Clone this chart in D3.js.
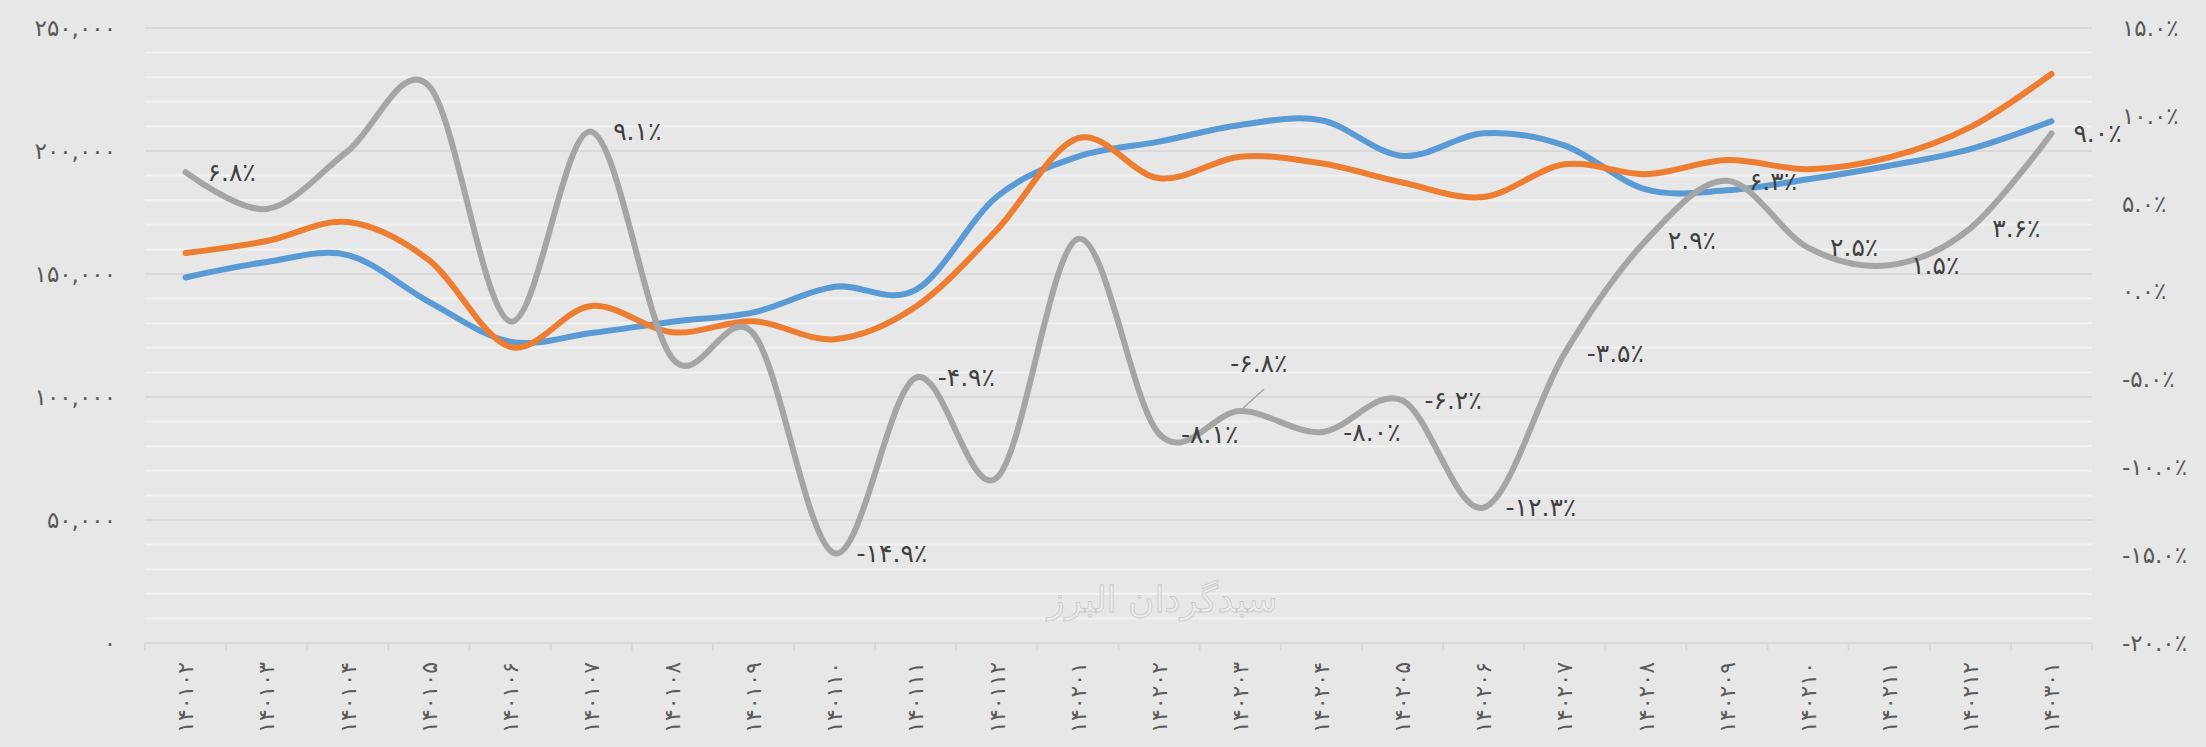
<!DOCTYPE html>
<html>
<head>
<meta charset="utf-8">
<script src="https://cdn.jsdelivr.net/npm/d3@7"></script>
<style>
  html, body { margin: 0; padding: 0; background: #e7e7e7; }
  svg { display: block; }
  text { font-family: "DejaVu Sans", sans-serif; }
</style>
</head>
<body>
<div id="chart"></div>
<script>
// months (solar hijri, yyyymm)
var months = [
  "۱۴۰۱۰۲", "۱۴۰۱۰۳", "۱۴۰۱۰۴", "۱۴۰۱۰۵", "۱۴۰۱۰۶", "۱۴۰۱۰۷", "۱۴۰۱۰۸", "۱۴۰۱۰۹"
, "۱۴۰۱۱۰", "۱۴۰۱۱۱", "۱۴۰۱۱۲", "۱۴۰۲۰۱", "۱۴۰۲۰۲", "۱۴۰۲۰۳", "۱۴۰۲۰۴", "۱۴۰۲۰۵"
, "۱۴۰۲۰۶", "۱۴۰۲۰۷", "۱۴۰۲۰۸", "۱۴۰۲۰۹", "۱۴۰۲۱۰", "۱۴۰۲۱۱", "۱۴۰۲۱۲", "۱۴۰۳۰۱"
]

// left axis series
var seriesBlue = [
  148600, 154900, 157700, 138700, 122500, 126000, 130600, 134400
, 144800, 143500, 181400, 197700, 203800, 210600, 212500, 198000
, 207200, 202200, 184400, 184000, 188500, 194000, 200800, 212100
]
var seriesOrange = [
  158500, 163400, 171100, 155600, 120400, 137000, 126300, 130800
, 123500, 136700, 167900, 205200, 188900, 197700, 195000, 187200
, 181300, 194600, 190600, 196300, 192600, 197400, 209700, 231300
]

// right axis series (percent)
var seriesChange = [
  6.8, 4.7, 8.0, 11.7, -1.7, 9.1, -3.8, -2.4
, -14.9, -4.9, -10.6, 3.0, -8.1, -6.8, -8.0, -6.2
, -12.3, -3.5, 2.9, 6.3, 2.5, 1.5, 3.6, 9.0
]
// points of seriesChange that carry a data label
var labelledPoints = [0, 5, 8, 9, 12, 13, 14, 15, 16, 17, 18, 19, 20, 21, 22, 23]

var leftTicks = [0, 50000, 100000, 150000, 200000, 250000]
var rightTicks = [-20, -15, -10, -5, 0, 5, 10, 15]
var watermarkText = "سبدگردان البرز"

!function (d3) {

  "use strict"

  var faDigits = "۰۱۲۳۴۵۶۷۸۹"

  function fa (s) {
    return String(s).replace(/[0-9]/g, function (c) { return faDigits[+c] })
  }

  function pct (v) {
    return fa((v < 0 ? "-" : "") + Math.abs(v).toFixed(1)) + "٪"
  }

  var PriceChart = function (element, options) {
    this.init(element, options)
  }

  PriceChart.prototype = {

    constructor: PriceChart

  , init: function (element, options) {
      var o = this.options = Object.assign({}, PriceChart.defaults, options)

      this.svg = d3.select(element)
        .append("svg")
        .attr("width", o.width)
        .attr("height", o.height)

      this.svg.append("rect")
        .attr("width", o.width)
        .attr("height", o.height)
        .attr("fill", o.color_bg)

      this.x = d3.scaleBand()
        .domain(d3.range(months.length))
        .range([o.left, o.right])

      this.yLeft = d3.scaleLinear()
        .domain([leftTicks[0], leftTicks[leftTicks.length - 1]])
        .range([o.bottom, o.top])

      this.yRight = d3.scaleLinear()
        .domain([rightTicks[0], rightTicks[rightTicks.length - 1]])
        .range([o.bottom, o.top])

      this.drawGrid()
      this.drawWatermark()
      this.drawAxes()
      this.drawLines()
      this.drawLabels()
    }

  , cx: function (i) {
      return this.x(i) + this.x.bandwidth() / 2
    }

  , drawGrid: function () {
      var that = this
        , o = this.options
        , step = 10000
        , values = d3.range(leftTicks[0], leftTicks[leftTicks.length - 1] + 1, step)

      this.svg.append("g")
        .selectAll("line")
          .data(values)
        .enter().append("line")
          .attr("x1", o.left)
          .attr("x2", o.right)
          .attr("y1", function (d) { return that.yLeft(d) })
          .attr("y2", function (d) { return that.yLeft(d) })
          .attr("stroke", function (d) {
            return leftTicks.indexOf(d) >= 0 ? o.color_grid_major : o.color_grid_minor
          })
          .attr("stroke-width", 2)
    }

  , drawWatermark: function () {
      var o = this.options
      this.svg.append("text")
        .text(watermarkText)
        .attr("x", (o.left + o.right) / 2 + 44)
        .attr("y", o.bottom - 31)
        .attr("text-anchor", "middle")
        .attr("direction", "rtl")
        .attr("font-size", "36px")
        .attr("fill", "#ececec")
        .attr("stroke", "#c9c9c9")
        .attr("stroke-width", 0.8)
    }

  , drawAxes: function () {
      var that = this
        , o = this.options

      // left axis
      var left = this.svg.append("g")
        .attr("transform", "translate(" + o.left + ",0)")
        .call(d3.axisLeft(this.yLeft)
          .tickValues(leftTicks)
          .tickSize(0)
          .tickPadding(29)
          .tickFormat(function (d) { return fa(d3.format(",")(d)) }))
      left.select(".domain").remove()

      // right axis
      var right = this.svg.append("g")
        .attr("transform", "translate(" + o.right + ",0)")
        .call(d3.axisRight(this.yRight)
          .tickValues(rightTicks)
          .tickSize(0)
          .tickPadding(30)
          .tickFormat(pct))
      right.select(".domain").remove()

      this.svg.selectAll(".tick text")
        .attr("font-family", "DejaVu Sans")
        .attr("font-size", "23px")
        .attr("fill", o.color_text)

      // category axis
      var bottom = this.svg.append("g")
        .attr("transform", "translate(0," + o.bottom + ")")

      bottom.append("line")
        .attr("x1", o.left)
        .attr("x2", o.right)
        .attr("stroke", o.color_axis)
        .attr("stroke-width", 2)

      // tick marks sit between categories
      var edges = d3.range(months.length).map(function (i) { return that.x(i) })
      edges.push(this.x.range()[1])

      bottom.selectAll(".edge")
          .data(edges)
        .enter().append("line")
          .attr("class", "edge")
          .attr("x1", function (d) { return d })
          .attr("x2", function (d) { return d })
          .attr("y1", 0)
          .attr("y2", 8)
          .attr("stroke", o.color_axis)
          .attr("stroke-width", 2)

      bottom.selectAll(".month")
          .data(months)
        .enter().append("text")
          .attr("class", "month")
          .text(function (d) { return d })
          .attr("transform", function (d, i) {
            return "translate(" + that.cx(i) + ",0) rotate(-90)"
          })
          .attr("x", -19)
          .attr("dy", "0.35em")
          .attr("text-anchor", "end")
          .attr("font-size", "22px")
          .attr("fill", o.color_text)
    }

  , drawLines: function () {
      var that = this
        , o = this.options

      function path (values, y) {
        return d3.line()
          .x(function (d, i) { return that.cx(i) })
          .y(function (d) { return y(d) })
          .curve(d3.curveCardinal.tension(0))(values)
      }

      var series = [
        { values: seriesBlue, y: this.yLeft, color: o.color_blue }
      , { values: seriesOrange, y: this.yLeft, color: o.color_orange }
      , { values: seriesChange, y: this.yRight, color: o.color_gray }
      ]

      this.svg.append("g")
        .selectAll("path")
          .data(series)
        .enter().append("path")
          .attr("d", function (d) { return path(d.values, d.y) })
          .attr("fill", "none")
          .attr("stroke", function (d) { return d.color })
          .attr("stroke-width", 6)
          .attr("stroke-linecap", "round")
          .attr("stroke-linejoin", "round")
    }

  , drawLabels: function () {
      var that = this
        , o = this.options
        , g = this.svg.append("g")

      labelledPoints.forEach(function (i) {
        var px = that.cx(i)
          , py = that.yRight(seriesChange[i])
          , nudge = o.label_nudge[i]
          , lx = px + 22
          , ly = py

        if (nudge) {
          lx = px + nudge[0]
          ly = py + nudge[1]
          g.append("line")
            .attr("x1", lx + 34)
            .attr("y1", ly + 26)
            .attr("x2", px + 3)
            .attr("y2", py - 3)
            .attr("stroke", "#a6a6a6")
            .attr("stroke-width", 1.5)
        }

        g.append("text")
          .text(pct(seriesChange[i]))
          .attr("x", lx)
          .attr("y", ly)
          .attr("dy", "0.35em")
          .attr("font-size", "25px")
          .attr("fill", o.color_label)
      })
    }

  }

  PriceChart.defaults = {
    width: 2206
  , height: 747
  , left: 145
  , right: 2092
  , top: 28
  , bottom: 643
  , color_bg: "#e7e7e7"
  , color_grid_major: "#d9d9d9"
  , color_grid_minor: "#f2f2f2"
  , color_axis: "#d9d9d9"
  , color_text: "#595959"
  , color_label: "#404040"
  , color_blue: "#5b9bd5"
  , color_orange: "#ed7d31"
  , color_gray: "#a5a5a5"
    // label moved off its point, drawn with a leader line
  , label_nudge: { 13: [-10, -48] }
  }

  new PriceChart("#chart")

}(window.d3)
</script>
</body>
</html>
